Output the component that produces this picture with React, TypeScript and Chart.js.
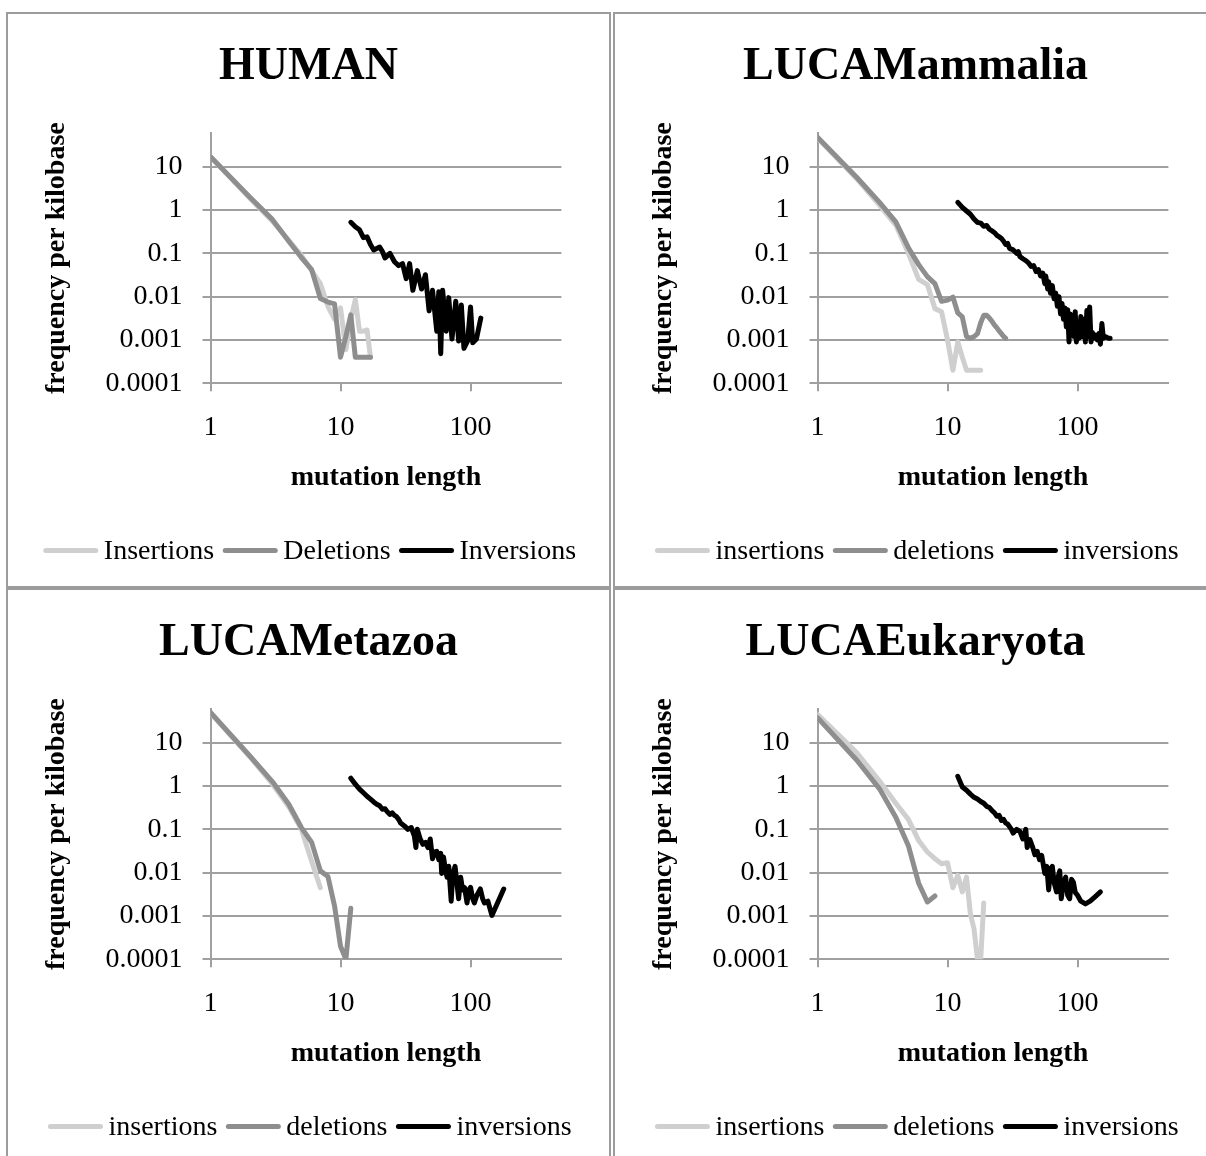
import React, { useEffect, useRef } from "react";
import { Chart, registerables } from "chart.js";

Chart.register(...registerables);

const FONT = "'Liberation Serif', 'Times New Roman', serif";
const GRID = "#a0a0a0";
const INS_COLOR = "#cfcfcf";
const DEL_COLOR = "#8e8e8e";
const INV_COLOR = "#000000";

const xTickValues = [1, 10, 100];
const xTickLabels = ["1", "10", "100"];
const yTickValues = [0.0001, 0.001, 0.01, 0.1, 1, 10];
const yTickLabels = ["0.0001", "0.001", "0.01", "0.1", "1", "10"];

// HUMAN
const humanInsX = [1, 2, 3, 4, 5, 6, 7, 8, 9, 10, 11, 12, 13, 14, 15, 16, 17];
const humanInsY = [17, 1.9, 0.55, 0.2, 0.09, 0.04, 0.02, 0.006, 0.003, 0.0055, 0.0006, 0.003, 0.0085, 0.0016, 0.0016, 0.0017, 0.0004];
const humanDelX = [1, 2, 3, 4, 5, 6, 7, 8, 9, 10, 11, 12, 13, 14, 15, 16, 17];
const humanDelY = [17, 2.0, 0.6, 0.19, 0.08, 0.042, 0.0091, 0.0075, 0.0068, 0.0004, 0.0012, 0.0038, 0.0004, 0.0004, 0.0004, 0.0004, 0.0004];
const humanInvX = [12, 13, 14, 15, 16, 17, 18, 20, 21, 22, 24, 26, 28, 30, 32, 34, 36, 39, 42, 45, 48, 51, 55, 57, 59, 61, 65, 68, 72, 77, 81, 85, 89, 95, 100, 104, 111, 120];
const humanInvY = [0.52, 0.41, 0.35, 0.23, 0.24, 0.16, 0.12, 0.14, 0.11, 0.078, 0.1, 0.064, 0.052, 0.058, 0.026, 0.058, 0.014, 0.04, 0.015, 0.032, 0.0047, 0.014, 0.0016, 0.013, 0.00048, 0.014, 0.0016, 0.0095, 0.00105, 0.0078, 0.00095, 0.0064, 0.00064, 0.00095, 0.0058, 0.00086, 0.00105, 0.0032];

// LUCAMammalia
const mamInsX = [1, 2, 3, 4, 5, 6, 7, 8, 9, 10, 11, 12, 13, 14, 15, 16, 17, 18];
const mamInsY = [46, 5.3, 1.3, 0.45, 0.1, 0.025, 0.019, 0.0053, 0.0045, 0.001, 0.0002, 0.0009, 0.0004, 0.0002, 0.0002, 0.0002, 0.0002, 0.0002];
const mamDelX = [1, 2, 3, 4, 5, 6, 7, 8, 9, 10, 11, 12, 13, 14, 15, 16, 17, 18, 19, 20, 21, 22, 23, 24, 25, 26, 27, 28];
const mamDelY = [48, 5.7, 1.5, 0.53, 0.135, 0.055, 0.029, 0.02, 0.0078, 0.0083, 0.0098, 0.0042, 0.0034, 0.0012, 0.0011, 0.0012, 0.0014, 0.0025, 0.0037, 0.0037, 0.0032, 0.0027, 0.0022, 0.0019, 0.0016, 0.0014, 0.0012, 0.0011];
const mamInvX = [12, 13, 14, 15, 16, 17, 18, 19, 20, 21, 22, 23, 24, 25, 26, 27, 28, 29, 30, 32, 34, 35, 36, 38, 40, 42, 44, 46, 48, 50, 52, 54, 56, 57, 59, 60, 62, 64, 66, 68, 70, 72, 74, 76, 78, 80, 82, 84, 86, 88, 90, 92, 94, 96, 98, 100, 103, 106, 109, 112, 115, 118, 121, 124, 127, 130, 134, 138, 142, 146, 150, 154, 158, 164, 172, 178];
const mamInvY = [1.5, 1.15, 0.95, 0.8, 0.62, 0.52, 0.5, 0.42, 0.44, 0.36, 0.33, 0.3, 0.26, 0.24, 0.22, 0.19, 0.16, 0.17, 0.13, 0.12, 0.1, 0.11, 0.085, 0.075, 0.068, 0.06, 0.05, 0.052, 0.038, 0.042, 0.03, 0.035, 0.02, 0.03, 0.015, 0.022, 0.012, 0.018, 0.009, 0.012, 0.006, 0.01, 0.004, 0.007, 0.003, 0.0055, 0.002, 0.005, 0.0009, 0.004, 0.0015, 0.003, 0.0012, 0.0045, 0.0009, 0.0025, 0.0011, 0.0035, 0.0012, 0.003, 0.0009, 0.0048, 0.0012, 0.0058, 0.0009, 0.0015, 0.0011, 0.0013, 0.001, 0.0014, 0.0008, 0.0024, 0.0011, 0.0012, 0.0011, 0.0011];

// LUCAMetazoa
const metInsX = [1, 2, 3, 4, 5, 6, 7];
const metInsY = [48, 4.8, 1.1, 0.33, 0.1, 0.018, 0.0045];
const metDelX = [1, 2, 3, 4, 5, 6, 7, 8, 9, 10, 11, 12];
const metDelY = [50, 5.0, 1.25, 0.38, 0.11, 0.05, 0.011, 0.0082, 0.0017, 0.0002, 0.0001, 0.0015];
const metInvX = [12, 13, 14, 15, 16, 17, 18, 19, 20, 21, 22, 23, 24, 25, 26, 27, 28, 29, 31, 33, 35, 37, 38, 39, 41, 43, 45, 47, 49, 51, 53, 55, 57, 59, 60, 62, 64, 66, 68, 71, 73, 76, 79, 81, 84, 87, 90, 94, 97, 100, 104, 107, 112, 119, 124, 128, 136, 146, 160, 180];
const metInvY = [1.52, 1.1, 0.85, 0.7, 0.58, 0.5, 0.43, 0.38, 0.35, 0.29, 0.3, 0.25, 0.22, 0.24, 0.21, 0.196, 0.17, 0.14, 0.12, 0.1, 0.11, 0.07, 0.038, 0.1, 0.06, 0.045, 0.05, 0.038, 0.06, 0.021, 0.03, 0.031, 0.02, 0.028, 0.0096, 0.023, 0.012, 0.0078, 0.014, 0.0022, 0.009, 0.014, 0.005, 0.0025, 0.0078, 0.004, 0.0045, 0.002, 0.004, 0.0046, 0.0025, 0.002, 0.003, 0.0042, 0.0025, 0.002, 0.0022, 0.00103, 0.0019, 0.0042];

// LUCAEukaryota
const eukInsX = [1, 2, 3, 4, 5, 6, 7, 8, 9, 10, 11, 12, 13, 14, 15, 16, 17, 18, 19];
const eukInsY = [45, 5.9, 1.3, 0.4, 0.17, 0.055, 0.03, 0.021, 0.016, 0.017, 0.0045, 0.0087, 0.0036, 0.0079, 0.0011, 0.0005, 0.0001, 0.0001, 0.002];
const eukDelX = [1, 2, 3, 4, 5, 6, 7, 8];
const eukDelY = [38, 4.0, 0.86, 0.19, 0.042, 0.0057, 0.0021, 0.0029];
const eukInvX = [12, 13, 14, 15, 16, 17, 18, 19, 20, 21, 22, 23, 24, 25, 26, 27, 28, 29, 31, 32, 34, 36, 38, 40, 41, 43, 45, 47, 49, 51, 53, 56, 58, 60, 62, 64, 66, 69, 71, 73, 75, 78, 81, 84, 87, 90, 93, 96, 100, 106, 115, 125, 135, 150];
const eukInvY = [1.67, 0.95, 0.8, 0.65, 0.55, 0.5, 0.44, 0.4, 0.34, 0.32, 0.27, 0.24, 0.2, 0.21, 0.16, 0.17, 0.14, 0.133, 0.1, 0.082, 0.1, 0.09, 0.06, 0.1, 0.038, 0.058, 0.04, 0.026, 0.031, 0.02, 0.025, 0.0096, 0.014, 0.004, 0.012, 0.014, 0.006, 0.0036, 0.008, 0.011, 0.0025, 0.006, 0.0079, 0.003, 0.0025, 0.007, 0.006, 0.0035, 0.003, 0.0022, 0.0019, 0.0022, 0.0027, 0.0036];

const toPoints = (xs: number[], ys: number[]) => xs.map((x, i) => ({ x, y: ys[i] }));

// Legend drawn as line samples followed directly by the text (Excel style)
const lineLegend = {
  id: "lineLegend",
  afterDraw(chart: any) {
    const ctx = chart.ctx as CanvasRenderingContext2D;
    ctx.save();
    ctx.font = `28px ${FONT}`;
    const items = chart.data.datasets.map((ds: any) => ({
      text: ds.label as string,
      color: ds.borderColor as string,
      w: ctx.measureText(ds.label).width,
    }));
    const LINE = 50;
    const GAP = 8;
    const SEP = 11;
    const total =
      items.reduce((s: number, it: any) => s + LINE + GAP + it.w, 0) + SEP * (items.length - 1);
    let x = 303 - total / 2;
    const y = 537.5;
    for (const it of items) {
      ctx.strokeStyle = it.color;
      ctx.lineWidth = 5;
      ctx.lineCap = "round";
      ctx.beginPath();
      ctx.moveTo(x, y - 1);
      ctx.lineTo(x + LINE, y - 1);
      ctx.stroke();
      x += LINE + GAP;
      ctx.fillStyle = "#000";
      ctx.textBaseline = "middle";
      ctx.textAlign = "left";
      ctx.fillText(it.text, x, y);
      x += it.w + SEP;
    }
    ctx.restore();
  },
};

type PanelProps = {
  title: string;
  names: string[];
  ins: [number[], number[]];
  del: [number[], number[]];
  inv: [number[], number[]];
  left: number;
  top: number;
};

function Panel({ title, names, ins, del, inv, left, top }: PanelProps) {
  const ref = useRef<HTMLCanvasElement>(null);
  useEffect(() => {
    if (!ref.current) return;
    const lineDs = (label: string, data: { x: number; y: number }[], color: string, order: number) => ({
      label,
      data,
      borderColor: color,
      backgroundColor: color,
      borderWidth: 5,
      pointRadius: 0,
      pointHoverRadius: 0,
      tension: 0,
      fill: false,
      borderCapStyle: "round" as const,
      borderJoinStyle: "round" as const,
      order,
      yAxisID: "y",
    });
    const chart = new Chart(ref.current, {
      type: "line",
      data: {
        datasets: [
          lineDs(names[0], toPoints(ins[0], ins[1]), INS_COLOR, 3),
          lineDs(names[1], toPoints(del[0], del[1]), DEL_COLOR, 2),
          lineDs(names[2], toPoints(inv[0], inv[1]), INV_COLOR, 1),
        ],
      },
      plugins: [lineLegend],
      options: {
        animation: false,
        responsive: false,
        devicePixelRatio: 1,
        events: [],
        layout: { padding: { top: 0, left: 0, right: 0, bottom: 60 } },
        plugins: {
          tooltip: { enabled: false },
          legend: { display: false },
          title: {
            display: true,
            text: title,
            color: "#000",
            font: { family: FONT, size: 46, weight: "bold", lineHeight: 1.2 },
            padding: { top: 26, bottom: 37.8 },
          },
        },
        scales: {
          x: {
            type: "logarithmic",
            min: 1,
            max: 500,
            afterBuildTicks: (s: any) => {
              s.ticks = xTickValues.map((v) => ({ value: v }));
            },
            afterFit: (s: any) => {
              s.height = 142.7;
            },
            ticks: {
              autoSkip: false,
              maxRotation: 0,
              padding: 20,
              color: "#000",
              font: { family: FONT, size: 28 },
              callback: (_v: any, i: number) => xTickLabels[i],
            },
            grid: { drawOnChartArea: false, drawTicks: true, tickLength: 8, color: GRID, lineWidth: 2 },
            border: { display: true, color: GRID, width: 2 },
            title: {
              display: true,
              text: "mutation length",
              color: "#000",
              font: { family: FONT, size: 28, weight: "bold", lineHeight: 1.2 },
              padding: { top: 0, bottom: 31.2 },
            },
          },
          y: {
            type: "logarithmic",
            min: 0.0001,
            max: 60,
            afterBuildTicks: (s: any) => {
              s.ticks = yTickValues.map((v) => ({ value: v }));
            },
            afterFit: (s: any) => {
              s.width = 202.5;
            },
            ticks: {
              autoSkip: false,
              padding: 20,
              color: "#000",
              font: { family: FONT, size: 28 },
              callback: (_v: any, i: number) => yTickLabels[i],
            },
            grid: { drawOnChartArea: true, drawTicks: true, tickLength: 8, color: GRID, lineWidth: 2 },
            border: { display: true, color: GRID, width: 2 },
            title: {
              display: true,
              text: "frequency per kilobase",
              color: "#000",
              font: { family: FONT, size: 28, weight: "bold", lineHeight: 1.2 },
              padding: { top: 31.5, bottom: 0 },
            },
          },
          // empty right-hand spacer so the plot ends at x = 500 like the original
          spacer: {
            type: "linear",
            position: "right",
            display: true,
            grid: { display: false, drawTicks: false },
            border: { display: false },
            ticks: { display: false },
            afterFit: (s: any) => {
              s.width = 47.6;
            },
          },
        },
      } as any,
    });
    return () => chart.destroy();
  }, []);
  return (
    <div
      style={{
        position: "absolute",
        left,
        top,
        width: 605,
        height: 576,
        border: "2px solid #9c9c9c",
        boxSizing: "border-box",
        background: "#fff",
      }}
    >
      <canvas ref={ref} width={601} height={572} style={{ display: "block", width: 601, height: 572 }} />
    </div>
  );
}

export default function App() {
  return (
    <div
      style={{
        position: "absolute",
        left: 0,
        top: 0,
        width: 1206,
        height: 1156,
        overflow: "hidden",
        background: "#fff",
      }}
    >
      <Panel title="HUMAN" names={["Insertions", "Deletions", "Inversions"]} ins={[humanInsX, humanInsY]} del={[humanDelX, humanDelY]} inv={[humanInvX, humanInvY]} left={6} top={12} />
      <Panel title="LUCAMammalia" names={["insertions", "deletions", "inversions"]} ins={[mamInsX, mamInsY]} del={[mamDelX, mamDelY]} inv={[mamInvX, mamInvY]} left={613} top={12} />
      <Panel title="LUCAMetazoa" names={["insertions", "deletions", "inversions"]} ins={[metInsX, metInsY]} del={[metDelX, metDelY]} inv={[metInvX, metInvY]} left={6} top={588} />
      <Panel title="LUCAEukaryota" names={["insertions", "deletions", "inversions"]} ins={[eukInsX, eukInsY]} del={[eukDelX, eukDelY]} inv={[eukInvX, eukInvY]} left={613} top={588} />
    </div>
  );
}
